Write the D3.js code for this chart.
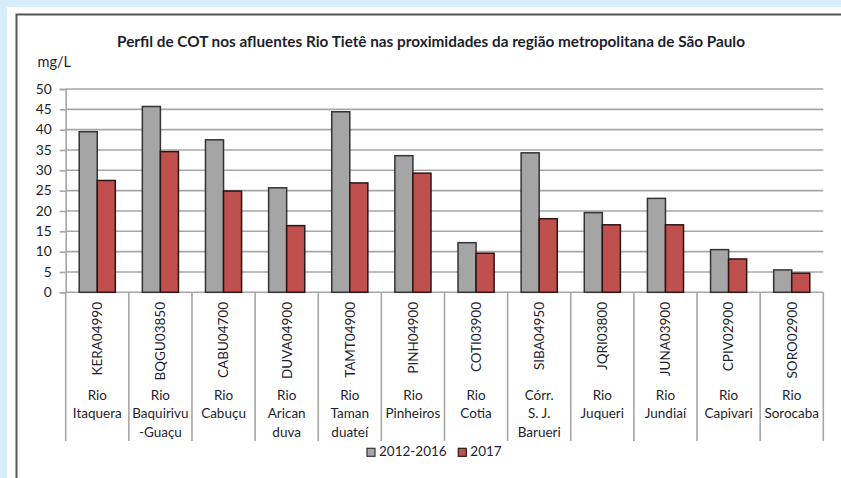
<!DOCTYPE html>
<html>
<head>
<meta charset="utf-8">
<script src="https://cdn.jsdelivr.net/npm/d3@7"></script>
<style>
  html, body { margin: 0; padding: 0; background: #d8edfb; }
  svg { display: block; }
  text { font-family: Lato, "Open Sans", sans-serif; fill: #1e1e2e; }
</style>
</head>
<body>
<svg id="chart" width="841" height="478"></svg>
<script>
const title = "Perfil de COT nos afluentes Rio Tietê nas proximidades da região metropolitana de São Paulo";
const unitLabel = "mg/L";
const stations = ["KERA04990","BQGU03850","CABU04700","DUVA04900","TAMT04900","PINH04900","COTI03900","SIBA04950","JQRI03800","JUNA03900","CPIV02900","SORO02900"];
const rivers = [
  ["Rio","Itaquera"],
  ["Rio","Baquirivu","-Guaçu"],
  ["Rio","Cabuçu"],
  ["Rio","Arican","duva"],
  ["Rio","Taman","duateí"],
  ["Rio","Pinheiros"],
  ["Rio","Cotia"],
  ["Córr.","S. J.","Barueri"],
  ["Rio","Juqueri"],
  ["Rio","Jundiaí"],
  ["Rio","Capivari"],
  ["Rio","Sorocaba"]
];
const seriesNames = ["2012-2016","2017"];
const values20122016 = [39.5, 45.7, 37.5, 25.7, 44.4, 33.6, 12.2, 34.3, 19.6, 23.1, 10.5, 5.5];
const values2017 = [27.5, 34.6, 24.9, 16.4, 26.9, 29.3, 9.6, 18.1, 16.6, 16.6, 8.2, 4.7];
const yTicks = [0,5,10,15,20,25,30,35,40,45,50];
const colors = ["#a5a5a5", "#c0504d"];
const strokes = ["#333333", "#2a1515"];

const svg = d3.select("#chart");
svg.append("rect").attr("x",0).attr("y",0).attr("width",841).attr("height",478).attr("fill","#d8edfb");
svg.append("rect").attr("x",7).attr("y",7).attr("width",834).attr("height",471).attr("fill","#ffffff");
svg.append("path").attr("d","M16.5,478 V14.5 H841").attr("fill","none").attr("stroke","#555").attr("stroke-width",2);

const plotLeft = 65.7, plotRight = 823.3, plotTop = 89, plotBottom = 292.3;
const y = d3.scaleLinear().domain([0,50]).range([plotBottom, plotTop]);
const x = d3.scaleBand().domain(stations).range([plotLeft, plotRight]).paddingInner(0).paddingOuter(0);
const bw = x.bandwidth();
const groupW = bw * 0.572;
const x1 = d3.scaleBand().domain(seriesNames).range([(bw-groupW)/2, (bw+groupW)/2]).padding(0);

// gridlines
svg.append("g").selectAll("line").data(yTicks.filter(d=>d>0)).join("line")
  .attr("x1", plotLeft).attr("x2", plotRight)
  .attr("y1", d=>y(d)).attr("y2", d=>y(d))
  .attr("stroke","#a6a6a6").attr("stroke-width",1.6);

// y axis
const yAxis = d3.axisLeft(y).tickValues(yTicks).tickSize(6).tickPadding(8);
const gy = svg.append("g").attr("transform",`translate(${plotLeft},0)`).call(yAxis);
gy.select(".domain").attr("stroke","#a6a6a6").attr("stroke-width",1.6);
gy.selectAll(".tick line").attr("stroke","#a6a6a6").attr("stroke-width",1.6);
gy.selectAll(".tick text").attr("font-size",13.8).attr("font-family","Lato, sans-serif").attr("fill","#1e1e2e").attr("dy","0.3em");

// x baseline + dividers
svg.append("line").attr("x1",plotLeft).attr("x2",plotRight).attr("y1",plotBottom).attr("y2",plotBottom)
  .attr("stroke","#a6a6a6").attr("stroke-width",1.6);
const dividers = stations.map(s=>x(s)).concat([plotRight]);
svg.append("g").selectAll("line").data(dividers).join("line")
  .attr("x1",d=>d).attr("x2",d=>d).attr("y1",plotBottom).attr("y2",441)
  .attr("stroke","#a6a6a6").attr("stroke-width",1.6);

// bars
const seriesData = [values20122016, values2017];
seriesNames.forEach((name, si) => {
  svg.append("g").selectAll("rect").data(stations).join("rect")
    .attr("x", (d)=> x(d) + x1(name))
    .attr("y", (d,i)=> y(seriesData[si][i]))
    .attr("width", x1.bandwidth())
    .attr("height", (d,i)=> y(0) - y(seriesData[si][i]))
    .attr("fill", colors[si]).attr("stroke", strokes[si]).attr("stroke-width",1.5);
});

// station labels (rotated)
svg.append("g").selectAll("text").data(stations).join("text")
  .attr("transform", d=>`translate(${x(d)+bw/2},302) rotate(-90)`)
  .attr("text-anchor","end").attr("dy","0.36em")
  .attr("font-size",13.5).text(d=>d);

// river labels
const rg = svg.append("g");
rivers.forEach((lines,i)=>{
  const cx = x(stations[i]) + bw/2;
  lines.forEach((ln,j)=>{
    rg.append("text").attr("x",cx).attr("y",400 + j*18.3).attr("text-anchor","middle")
      .attr("font-size",13.5).text(ln);
  });
});

// title & unit
svg.append("text").attr("x",431).attr("y",47).attr("text-anchor","middle")
  .attr("font-size",15.3).attr("font-weight","bold").attr("fill","#111").text(title);
svg.append("text").attr("x",37.5).attr("y",66.5).attr("font-size",14.5).text(unitLabel);

// legend
const legendX = [367, 458.3];
const lg = svg.append("g");
seriesNames.forEach((name,i)=>{
  lg.append("rect").attr("x",legendX[i]).attr("y",448.3).attr("width",8).attr("height",8)
    .attr("fill",colors[i]).attr("stroke",strokes[i]).attr("stroke-width",1.2);
  lg.append("text").attr("x",legendX[i]+12).attr("y",455.7).attr("font-size",13.5).text(name);
});
</script>
</body>
</html>
